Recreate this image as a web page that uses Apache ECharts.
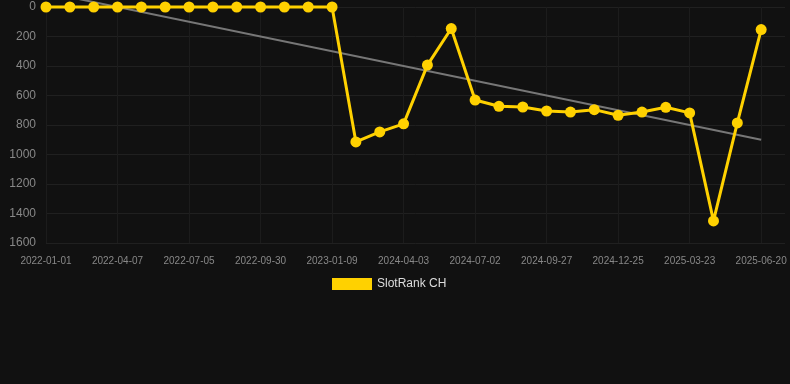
<!DOCTYPE html>
<html>
<head>
<meta charset="utf-8">
<script src="https://cdn.jsdelivr.net/npm/echarts@6/dist/echarts.min.js"></script>
<style>
    html, body { margin: 0; padding: 0; background: #111111; }
    #chart { width: 790px; height: 384px; }
</style>
</head>
<body>
<div id="chart"></div>
<script>
// dates on the x axis (only every third one is labelled)
const dates = [
    '2022-01-01', '2022-02-02', '2022-03-05', '2022-04-07', '2022-05-08', '2022-06-04',
    '2022-07-05', '2022-08-03', '2022-09-01', '2022-09-30', '2022-10-31', '2022-12-05',
    '2023-01-09', '2024-02-01', '2024-03-02', '2024-04-03', '2024-05-02', '2024-06-01',
    '2024-07-02', '2024-08-01', '2024-08-29', '2024-09-27', '2024-10-27', '2024-11-25',
    '2024-12-25', '2025-01-23', '2025-02-21', '2025-03-23', '2025-04-22', '2025-05-21',
    '2025-06-20'
]
// rank values (lower is better, axis is inverted)
const rankValues = [
    0, 0, 0, 0, 0, 0, 0, 0, 0, 0, 0, 0, 0,
    915, 847, 792, 394, 146, 631, 673, 678, 705, 712, 696, 734, 712, 680, 718, 1450, 786, 153
]
// trend line end points [category index, value]
const trendPoints = [[0, -100], [30, 900]]
const yTicks = { min: 0, max: 1600, interval: 200 }

const myChart = echarts.init(document.getElementById('chart'))

const option = {
    backgroundColor: '#111111',
    animation: false,
    grid: {
        left: 46,
        right: 5,
        top: 7,
        bottom: 141
    },
    legend: {
        data: ['SlotRank CH'],
        left: 327,
        top: 273,
        itemWidth: 40,
        itemHeight: 12,
        icon: 'rect',
        textStyle: {
            color: '#dddddd',
            fontSize: 12,
            fontFamily: 'Liberation Sans, Arial, sans-serif'
        }
    },
    xAxis: {
        type: 'category',
        data: dates,
        boundaryGap: false,
        max: 31,
        axisLine: { show: false },
        axisTick: { show: false },
        axisLabel: {
            interval: 2,
            color: '#888888',
            fontSize: 10,
            margin: 13,
            fontFamily: 'Liberation Sans, Arial, sans-serif'
        },
        splitLine: {
            show: true,
            interval: 2,
            lineStyle: { color: '#1c1c1c', width: 1 }
        }
    },
    yAxis: {
        type: 'value',
        inverse: true,
        min: yTicks.min,
        max: yTicks.max,
        interval: yTicks.interval,
        axisLine: { show: false },
        axisTick: { show: false },
        axisLabel: {
            color: '#888888',
            fontSize: 12,
            margin: 10,
            formatter: (v) => String(v),
            fontFamily: 'Liberation Sans, Arial, sans-serif'
        },
        splitLine: {
            lineStyle: { color: '#202020', width: 1 }
        }
    },
    series: [
        {
            name: 'SlotRank CH',
            type: 'line',
            data: rankValues,
            symbol: 'circle',
            symbolSize: 11,
            clip: false,
            z: 3,
            itemStyle: { color: '#FFD100' },
            lineStyle: { color: '#FFD100', width: 3 }
        },
        {
            name: 'trend',
            type: 'line',
            data: trendPoints,
            symbol: 'none',
            clip: false,
            silent: true,
            z: 2,
            lineStyle: { color: '#777777', width: 2 }
        }
    ]
}

myChart.setOption(option)
</script>
</body>
</html>
